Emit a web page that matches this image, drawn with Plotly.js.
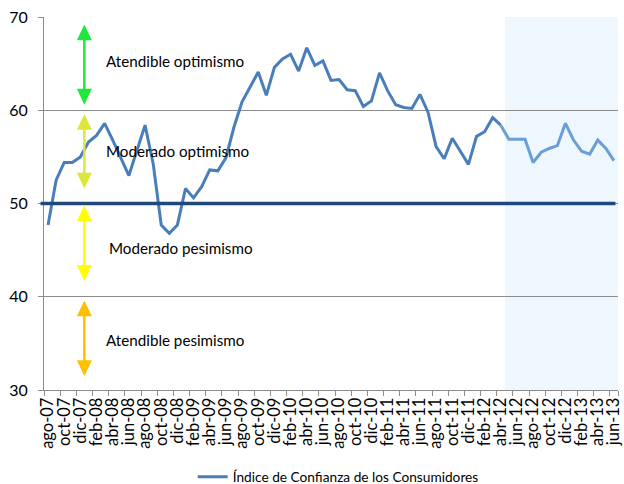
<!DOCTYPE html>
<html>
<head>
<meta charset="utf-8">
<script src="https://cdn.plot.ly/plotly-3.0.1.min.js"></script>
<style>html,body{margin:0;padding:0;background:#fff;}#chart{width:624px;height:484px;}</style>
</head>
<body>
<div id="chart"></div>
<script>
// Months (ago-07 .. jun-13)
const months = [
  "ago-07","sep-07","oct-07","nov-07","dic-07",
  "ene-08","feb-08","mar-08","abr-08","may-08","jun-08","jul-08","ago-08","sep-08","oct-08","nov-08","dic-08",
  "ene-09","feb-09","mar-09","abr-09","may-09","jun-09","jul-09","ago-09","sep-09","oct-09","nov-09","dic-09",
  "ene-10","feb-10","mar-10","abr-10","may-10","jun-10","jul-10","ago-10","sep-10","oct-10","nov-10","dic-10",
  "ene-11","feb-11","mar-11","abr-11","may-11","jun-11","jul-11","ago-11","sep-11","oct-11","nov-11","dic-11",
  "ene-12","feb-12","mar-12","abr-12","may-12","jun-12","jul-12","ago-12","sep-12","oct-12","nov-12","dic-12",
  "ene-13","feb-13","mar-13","abr-13","may-13","jun-13"
];
// Índice de Confianza de los Consumidores
const indice = [
  47.7, 52.5, 54.4, 54.4, 55.0,
  56.6, 57.3, 58.6, 56.8, 54.9, 53.0, 55.7, 58.4, 54.3, 47.7, 46.8, 47.7,
  51.6, 50.6, 51.8, 53.6, 53.5, 54.9, 58.2, 60.9, 62.5, 64.1, 61.6, 64.6,
  65.5, 66.0, 64.2, 66.7, 64.8, 65.3, 63.2, 63.3, 62.2, 62.1, 60.4, 61.0,
  64.0, 62.1, 60.6, 60.3, 60.2, 61.7, 59.8, 56.1, 54.8, 57.0, 55.6, 54.2,
  57.2, 57.7, 59.2, 58.4, 56.9, 56.9, 56.9, 54.4, 55.5, 55.9, 56.2, 58.6,
  56.8, 55.6, 55.3, 56.8, 55.9, 54.6
];
// Split month (start of shaded/projected section)
const splitMonth = "abr-12";
const shadeStart = "may-12";
// Tick labels every two months
const tickLabels = months.filter((m, i) => i % 2 === 0);
// Zones
const zoneLabels = ["Atendible optimismo", "Moderado optimismo", "Moderado pesimismo", "Atendible pesimismo"];
const neutral = 50;

const si = months.indexOf(splitMonth);
const font = "Lato, 'Open Sans', sans-serif";

const traces = [
  {
    x: months.slice(0, si + 1), y: indice.slice(0, si + 1),
    type: "scatter", mode: "lines",
    line: {color: "#4a7ebb", width: 3},
    name: "Índice de Confianza de los Consumidores",
    showlegend: true, hoverinfo: "x+y"
  },
  {
    x: months.slice(si), y: indice.slice(si),
    type: "scatter", mode: "lines",
    line: {color: "#6a9fd5", width: 3},
    showlegend: false, hoverinfo: "x+y"
  }
];

function arrowShapes(yTop, yBot, color) {
  const xc = 0.0703, hw = 0.0131, hl = 1.7;
  return [
    {type: "line", xref: "paper", yref: "y", x0: xc, x1: xc, y0: yTop - hl * 0.6, y1: yBot + hl * 0.6,
     line: {color: color, width: 2.5}, layer: "above"},
    {type: "path", xref: "paper", yref: "y",
     path: `M ${xc - hw},${yTop - hl} L ${xc},${yTop} L ${xc + hw},${yTop - hl} Z`,
     fillcolor: color, line: {width: 0}, layer: "above"},
    {type: "path", xref: "paper", yref: "y",
     path: `M ${xc - hw},${yBot + hl} L ${xc},${yBot} L ${xc + hw},${yBot + hl} Z`,
     fillcolor: color, line: {width: 0}, layer: "above"}
  ];
}

const shapes = [
  {type: "rect", xref: "x", yref: "paper", x0: months.indexOf(shadeStart) - 0.5, x1: months.length - 0.5, y0: 0, y1: 1,
   fillcolor: "#eef6fe", line: {width: 0}, layer: "below"},
  {type: "line", xref: "paper", yref: "y", x0: -0.006, x1: 0.9955, y0: neutral, y1: neutral,
   line: {color: "#1f497d", width: 3.5}, layer: "above"},
  ...arrowShapes(69.2, 60.6, "#1ee83c"),
  ...arrowShapes(59.6, 51.6, "#dde63a"),
  ...arrowShapes(49.8, 41.7, "#ffff00"),
  ...arrowShapes(39.6, 31.5, "#ffc000")
];

const annY = [65.25, 55.6, 45.2, 35.35];
const annX = [0.105, 0.105, 0.11, 0.105];
const annotations = zoneLabels.map((t, k) => ({
  text: t, xref: "paper", yref: "y", x: annX[k], y: annY[k],
  xanchor: "left", yanchor: "middle", showarrow: false,
  font: {family: font, size: 15.2, color: "#000"}
}));

const layout = {
  width: 624, height: 484,
  margin: {l: 44, r: 6.4, t: 16.7, b: 94, autoexpand: false},
  paper_bgcolor: "#fff", plot_bgcolor: "rgba(0,0,0,0)",
  font: {family: font, color: "#000"},
  showlegend: true,
  legend: {orientation: "h", x: 0.542, xanchor: "center", xref: "container",
           y: 0.015, yref: "container", yanchor: "middle",
           font: {family: font, size: 13.7, color: "#000"}},
  xaxis: {
    type: "category", categoryorder: "array", categoryarray: months,
    range: [-0.5, months.length - 0.5],
    tickmode: "array", tickvals: tickLabels, ticktext: tickLabels,
    tickson: "boundaries", ticks: "outside", ticklen: 5, tickcolor: "#8c8c8c",
    tickangle: -90, tickfont: {family: font, size: 16.5, color: "#000"},
    showgrid: false, showline: true, linecolor: "#8c8c8c", linewidth: 1,
    zeroline: false, fixedrange: true, automargin: false
  },
  yaxis: {
    range: [30, 70], tickmode: "array", tickvals: [30, 40, 50, 60, 70],
    ticks: "outside", ticklen: 5, tickcolor: "#8c8c8c",
    tickfont: {family: font, size: 16, color: "#000"},
    showgrid: true, gridcolor: "#8c8c8c", gridwidth: 1,
    showline: true, linecolor: "#8c8c8c", linewidth: 1,
    zeroline: false, fixedrange: true, ticklabelstandoff: 7, automargin: false
  },
  shapes: shapes,
  annotations: annotations
};

Plotly.newPlot("chart", traces, layout, {displayModeBar: false, staticPlot: true});
</script>
</body>
</html>
